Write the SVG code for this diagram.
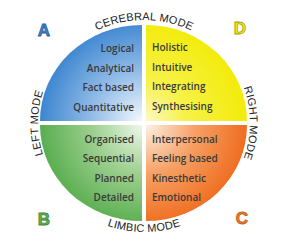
<svg xmlns="http://www.w3.org/2000/svg" width="288" height="252" viewBox="0 0 288 252">
<style>
.t{font-family:"Open Sans","Liberation Sans",sans-serif;font-size:10px;font-weight:600;fill:#3a3a3a}
.r{text-anchor:end}
.m{font-family:"Liberation Sans",Arial,sans-serif;font-size:11px;fill:#222;text-anchor:middle;letter-spacing:0.2px}
.L{font-family:"Liberation Sans",Arial,sans-serif;font-size:17px;font-weight:bold;text-anchor:middle;stroke-width:0.8}
</style>
<defs>
<radialGradient id="gA" gradientUnits="userSpaceOnUse" cx="142" cy="121" r="110">
<stop offset="0" stop-color="#f4f8fd"/><stop offset="0.45" stop-color="#93bde8"/><stop offset="1" stop-color="#2f7dcc"/>
</radialGradient>
<radialGradient id="gD" gradientUnits="userSpaceOnUse" cx="146" cy="121" r="110">
<stop offset="0" stop-color="#fbf8c8"/><stop offset="0.35" stop-color="#f7f24a"/><stop offset="1" stop-color="#f2ea00"/>
</radialGradient>
<radialGradient id="gB" gradientUnits="userSpaceOnUse" cx="142" cy="125" r="110">
<stop offset="0" stop-color="#eef7ea"/><stop offset="0.45" stop-color="#9ccf8e"/><stop offset="1" stop-color="#4fa846"/>
</radialGradient>
<radialGradient id="gC" gradientUnits="userSpaceOnUse" cx="146" cy="125" r="110">
<stop offset="0" stop-color="#fdf0e4"/><stop offset="0.45" stop-color="#f6a064"/><stop offset="1" stop-color="#ee6414"/>
</radialGradient>
<path id="pTop" d="M37,123 A107,103 0 0 1 251,123"/>
<path id="pLeft" d="M144,227 A106,104 0 0 1 144,19"/>
<path id="pRight" d="M144,19 A106,104 0 0 1 144,227"/>
<path id="pBot" d="M34,123 A110,109 0 0 0 254,123"/>
</defs>
<rect width="288" height="252" fill="#fff"/>
<g id="quadA">
<path d="M142,121 L40,121 A102,96 0 0 1 142,25 Z" fill="url(#gA)"/>
<text class="t r" x="134" y="52">Logical</text>
<text class="t r" x="134" y="72">Analytical</text>
<text class="t r" x="134" y="91">Fact based</text>
<text class="t r" x="134" y="111">Quantitative</text>
<text class="L" x="44" y="36" fill="#3c86d0" stroke="#2a5f9e">A</text>
</g>
<g id="quadD">
<path d="M146,121 L146,25 A101,96 0 0 1 247,121 Z" fill="url(#gD)"/>
<text class="t" x="152" y="51">Holistic</text>
<text class="t" x="152" y="71">Intuitive</text>
<text class="t" x="152" y="90">Integrating</text>
<text class="t" x="152" y="110">Synthesising</text>
<text class="L" x="240" y="34" fill="#f5f000" stroke="#9a9a20">D</text>
</g>
<g id="quadB">
<path d="M142,125 L142,221 A102,96 0 0 1 40,125 Z" fill="url(#gB)"/>
<text class="t r" x="134" y="143">Organised</text>
<text class="t r" x="134" y="162">Sequential</text>
<text class="t r" x="134" y="182">Planned</text>
<text class="t r" x="134" y="201">Detailed</text>
<text class="L" x="44" y="225" fill="#62b058" stroke="#3f8a3a">B</text>
</g>
<g id="quadC">
<path d="M146,125 L247,125 A101,96 0 0 1 146,221 Z" fill="url(#gC)"/>
<text class="t" x="152" y="143">Interpersonal</text>
<text class="t" x="152" y="162">Feeling based</text>
<text class="t" x="152" y="182">Kinesthetic</text>
<text class="t" x="152" y="201">Emotional</text>
<text class="L" x="242" y="224" fill="#e8782e" stroke="#c85e1c">C</text>
</g>
<g id="modes">
<text class="m"><textPath href="#pTop" startOffset="50%">CEREBRAL MODE</textPath></text>
<text class="m"><textPath href="#pLeft" startOffset="50%">LEFT MODE</textPath></text>
<text class="m"><textPath href="#pRight" startOffset="50%">RIGHT MODE</textPath></text>
<text class="m"><textPath href="#pBot" startOffset="50%">LIMBIC MODE</textPath></text>
</g>
</svg>
